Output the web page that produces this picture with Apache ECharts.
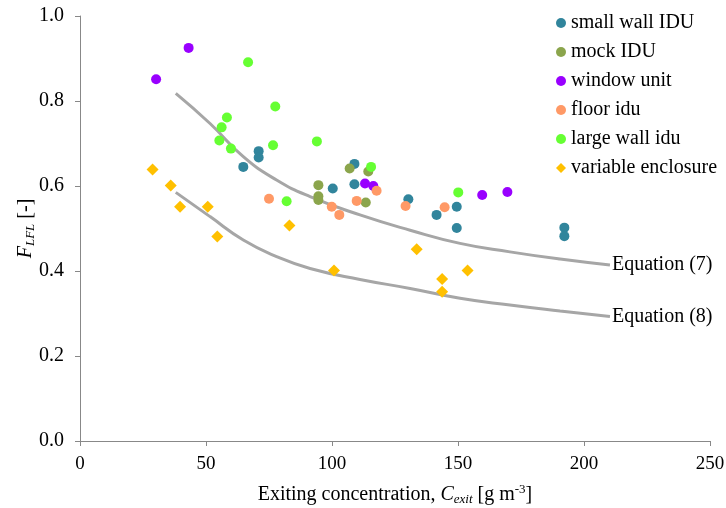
<!DOCTYPE html>
<html>
<head>
<meta charset="utf-8">
<script src="https://cdn.jsdelivr.net/npm/echarts@6/dist/echarts.min.js"></script>
<style>html,body{margin:0;padding:0;background:#fff}#c{width:726px;height:508px}</style>
</head>
<body>
<div id="c"></div>
<script>
const xTicks = [0, 50, 100, 150, 200, 250];
const yTicks = [0.0, 0.2, 0.4, 0.6, 0.8, 1.0];

const smallWallIDU = [[70.9,0.682],[70.9,0.667],[64.8,0.645],[100.3,0.594],[108.9,0.652],[108.9,0.604],[130.3,0.569],[141.5,0.532],[149.5,0.551],[149.5,0.501],[192.2,0.502],[192.2,0.482]];
const mockIDU = [[94.6,0.602],[94.6,0.576],[94.6,0.567],[107.0,0.641],[114.4,0.634],[113.4,0.561]];
const windowUnit = [[30.2,0.851],[43.1,0.925],[113.1,0.606],[116.4,0.600],[159.6,0.579],[169.6,0.586]];
const floorIdu = [[75.0,0.570],[99.9,0.551],[102.9,0.532],[109.8,0.565],[117.7,0.589],[129.2,0.553],[144.7,0.550]];
const largeWallIdu = [[66.7,0.891],[77.5,0.787],[58.3,0.761],[56.2,0.738],[55.3,0.707],[59.9,0.688],[76.6,0.696],[94.0,0.705],[82.0,0.564],[115.5,0.645],[150.1,0.585]];
const variableEnclosure = [[28.8,0.639],[36.0,0.601],[39.7,0.551],[50.7,0.551],[54.5,0.481],[83.1,0.507],[100.8,0.401],[133.6,0.451],[143.7,0.381],[143.7,0.351],[153.8,0.401]];

const equation7 = [[38.0,0.818],[51.6,0.747],[64.8,0.669],[78.0,0.614],[91.3,0.575],[111.1,0.532],[131.0,0.496],[150.8,0.465],[170.6,0.445],[190.5,0.428],[210.3,0.414]];
const equation8 = [[38.0,0.585],[51.6,0.528],[64.8,0.473],[78.0,0.434],[91.3,0.406],[111.1,0.380],[131.0,0.359],[150.8,0.336],[170.6,0.320],[190.5,0.306],[210.3,0.293]];

const FONT = '"Liberation Serif","Times New Roman",serif';
const chart = echarts.init(document.getElementById('c'));

function scatter(name, data, color, symbol, size) {
  return { name, type: 'scatter', data, symbol, symbolSize: size, itemStyle: { color, opacity: 1 }, z: 3 };
}
function curve(name, data, label) {
  return {
    name, type: 'line', data, smooth: true, showSymbol: false, symbol: 'none',
    lineStyle: { color: '#A6A6A6', width: 3 }, z: 2, silent: true,
    endLabel: { show: true, formatter: label, color: '#000', fontFamily: FONT, fontSize: 20, distance: 2 }
  };
}

chart.setOption({
  backgroundColor: '#fff',
  animation: false,
  grid: { left: 80, right: 16, top: 16, bottom: 67, containLabel: false, outerBoundsMode: 'none' },
  legend: {
    orient: 'vertical', left: 551, top: 8, itemWidth: 10, itemHeight: 10, itemGap: 9,
    textStyle: { fontFamily: FONT, fontSize: 20, color: '#000' },
    data: [
      { name: 'small wall IDU', icon: 'circle' },
      { name: 'mock IDU', icon: 'circle' },
      { name: 'window unit', icon: 'circle' },
      { name: 'floor idu', icon: 'circle' },
      { name: 'large wall idu', icon: 'circle' },
      { name: 'variable enclosure', icon: 'diamond' }
    ]
  },
  xAxis: {
    type: 'value', min: xTicks[0], max: xTicks[xTicks.length - 1], interval: 50,
    axisLine: { show: true, lineStyle: { color: '#888', width: 1 } },
    axisTick: { show: true, length: 5, lineStyle: { color: '#888' } },
    splitLine: { show: false },
    axisLabel: { fontFamily: FONT, fontSize: 19, color: '#000', margin: 14 },
    name: '{n|Exiting concentration, }{i|C}{sub|exit}{n| [g m}{sup|-3}{n|]}',
    nameLocation: 'middle', nameGap: 42, nameMoveOverlap: false,
    nameTextStyle: {
      rich: {
        n: { fontFamily: FONT, fontSize: 20, color: '#000' },
        i: { fontFamily: FONT, fontSize: 20, fontStyle: 'italic', color: '#000' },
        sub: { fontFamily: FONT, fontSize: 13, fontStyle: 'italic', color: '#000', verticalAlign: 'bottom', padding: [10, 0, 0, 0] },
        sup: { fontFamily: FONT, fontSize: 13, color: '#000', verticalAlign: 'top', padding: [0, 0, 10, 0] }
      }
    }
  },
  yAxis: {
    type: 'value', min: yTicks[0], max: yTicks[yTicks.length - 1], interval: 0.2,
    axisLine: { show: true, lineStyle: { color: '#888', width: 1 } },
    axisTick: { show: true, length: 5, lineStyle: { color: '#888' } },
    splitLine: { show: false },
    axisLabel: { fontFamily: FONT, fontSize: 20, color: '#000', margin: 16, formatter: v => v.toFixed(1) },
    name: '{i|F}{sub|LFL}{n| [-]}',
    nameLocation: 'middle', nameGap: 43, nameRotate: 90, nameMoveOverlap: false,
    nameTextStyle: {
      rich: {
        n: { fontFamily: FONT, fontSize: 20, color: '#000' },
        i: { fontFamily: FONT, fontSize: 20, fontStyle: 'italic', color: '#000' },
        sub: { fontFamily: FONT, fontSize: 13, fontStyle: 'italic', color: '#000', verticalAlign: 'bottom', padding: [10, 0, 0, 0] }
      }
    }
  },
  series: [
    curve('Equation (7)', equation7, 'Equation (7)'),
    curve('Equation (8)', equation8, 'Equation (8)'),
    scatter('small wall IDU', smallWallIDU, '#31859C', 'circle', 10),
    scatter('mock IDU', mockIDU, '#8BA54C', 'circle', 10),
    scatter('window unit', windowUnit, '#9900FF', 'circle', 10),
    scatter('floor idu', floorIdu, '#FF9966', 'circle', 10),
    scatter('large wall idu', largeWallIdu, '#66FF33', 'circle', 10),
    scatter('variable enclosure', variableEnclosure, '#FFC000', 'diamond', 12)
  ]
});
</script>
</body>
</html>
